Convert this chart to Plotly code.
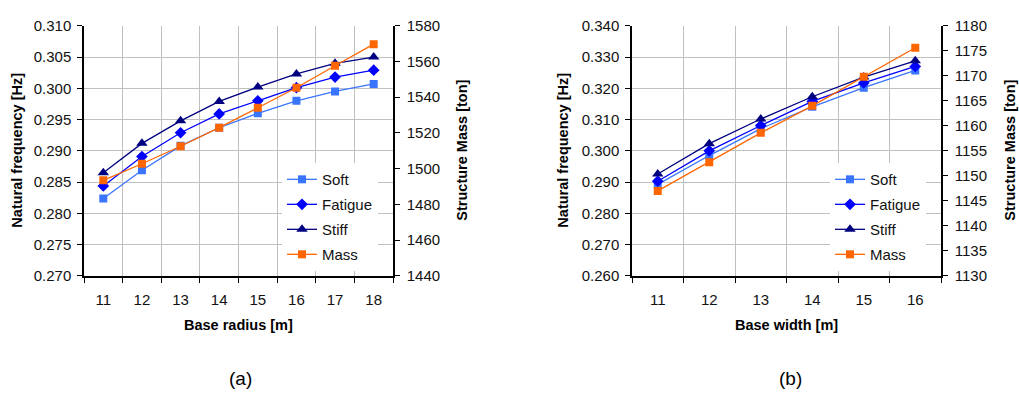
import plotly.graph_objects as go

W, H = 1019, 395

# ---------------- data (a) ----------------
radius = ["11", "12", "13", "14", "15", "16", "17", "18"]
a_soft = [0.2824, 0.2869, 0.2908, 0.2937, 0.2960, 0.2980, 0.2995, 0.3007]
a_fatigue = [0.2844, 0.2891, 0.2929, 0.2959, 0.2980, 0.3001, 0.3018, 0.3029]
a_stiff = [0.2865, 0.2912, 0.2948, 0.2979, 0.3002, 0.3023, 0.3040, 0.3050]
a_mass = [1493.5, 1502.8, 1512.6, 1523.0, 1534.1, 1545.3, 1557.6, 1569.7]

# ---------------- data (b) ----------------
width = ["11", "12", "13", "14", "15", "16"]
b_soft = [0.2893, 0.2985, 0.3071, 0.3141, 0.3202, 0.3257]
b_fatigue = [0.2903, 0.3000, 0.3081, 0.3158, 0.3217, 0.3270]
b_stiff = [0.2926, 0.3023, 0.3102, 0.3173, 0.3236, 0.3288]
b_mass = [1147.0, 1152.75, 1158.6, 1164.0, 1169.8, 1175.6]

C_SOFT = "#3A75FF"
C_FAT = "#0000FF"
C_STIFF = "#000080"
C_MASS = "#FF6600"
FONT = "Arial, Liberation Sans, sans-serif"

fig = go.Figure()


def add_series(x, soft, fat, stiff, mass, xa, ya, ya2, legend):
    common = dict(mode="lines+markers", xaxis=xa, legend=legend)
    fig.add_trace(go.Scatter(x=x, y=soft, name="Soft", yaxis=ya, legendgroup=legend + "1",
                             line=dict(color=C_SOFT, width=1.3),
                             marker=dict(symbol="square", size=8, color=C_SOFT), **common))
    fig.add_trace(go.Scatter(x=x, y=fat, name="Fatigue", yaxis=ya, legendgroup=legend + "2",
                             line=dict(color=C_FAT, width=1.3),
                             marker=dict(symbol="diamond", size=9, color=C_FAT), **common))
    fig.add_trace(go.Scatter(x=x, y=stiff, name="Stiff", yaxis=ya, legendgroup=legend + "3",
                             line=dict(color=C_STIFF, width=1.3),
                             marker=dict(symbol="triangle-up", size=10, color=C_STIFF), **common))
    fig.add_trace(go.Scatter(x=x, y=mass, name="Mass", yaxis=ya2, legendgroup=legend + "4",
                             line=dict(color=C_MASS, width=1.3),
                             marker=dict(symbol="square", size=8, color=C_MASS), **common))


add_series(radius, a_soft, a_fatigue, a_stiff, a_mass, "x", "y", "y2", "legend")
add_series(width, b_soft, b_fatigue, b_stiff, b_mass, "x2", "y3", "y4", "legend2")

ytop = (H - 17.5) / H
ybot = (H - 279) / H
tickfont = dict(family=FONT, size=15, color="#111111")
GRID = "#C0C0C0"

xcommon = dict(type="category", tickson="boundaries", showgrid=True, gridcolor=GRID, gridwidth=1,
               showline=True, linecolor="black", linewidth=1.5, ticks="outside", ticklen=5,
               tickcolor="black", tickfont=tickfont, ticklabelstandoff=9, zeroline=False)
ycommon = dict(showgrid=True, gridcolor=GRID, gridwidth=1, showline=True, linecolor="black",
               linewidth=1.5, ticks="outside", ticklen=5, tickcolor="black", tickfont=tickfont,
               zeroline=False, domain=[ybot, ytop])

fig.update_layout(
    width=W, height=H,
    margin=dict(l=0, r=0, t=0, b=0),
    paper_bgcolor="white", plot_bgcolor="white",
    showlegend=True,
    xaxis=dict(domain=[84 / W, 393 / W], range=[-0.5, 7.5], anchor="y", **xcommon),
    xaxis2=dict(domain=[632 / W, 941 / W], range=[-0.5, 5.5], anchor="y3", **xcommon),
    yaxis=dict(anchor="x", range=[0.270, 0.310], dtick=0.005, tickformat=".3f",
               ticklabelstandoff=3, **ycommon),
    yaxis2=dict(anchor="x", overlaying="y", side="right", range=[1440, 1580], dtick=20,
                ticklabelstandoff=4, **{**ycommon, "showgrid": False}),
    yaxis3=dict(anchor="x2", range=[0.260, 0.340], dtick=0.010, tickformat=".3f",
                ticklabelstandoff=3, **ycommon),
    yaxis4=dict(anchor="x2", overlaying="y3", side="right", range=[1130, 1180], dtick=5,
                ticklabelstandoff=4, **{**ycommon, "showgrid": False}),
    legend=dict(x=282 / W, y=(H - 161) / H, xanchor="left", yanchor="top",
                bgcolor="white", borderwidth=0, font=dict(family=FONT, size=15, color="#111111"),
                tracegroupgap=2.5, traceorder="grouped"),
    legend2=dict(x=830 / W, y=(H - 161) / H, xanchor="left", yanchor="top",
                 bgcolor="white", borderwidth=0, font=dict(family=FONT, size=15, color="#111111"),
                 tracegroupgap=2.5, traceorder="grouped"),
)

tfont = dict(family=FONT, size=14.5, color="black")
ann = []


def add_ann(text, xp, yp, angle=0, font=tfont):
    ann.append(dict(text=text, x=xp / W, y=(H - yp) / H, xref="paper", yref="paper",
                    showarrow=False, textangle=angle, xanchor="center", yanchor="middle",
                    font=font))


add_ann("<b>Natural frequency [Hz]</b>", 17, 148, -90)
add_ann("<b>Structure Mass [ton]</b>", 462, 148, -90)
add_ann("<b>Natural frequency [Hz]</b>", 563, 148, -90)
add_ann("<b>Structure Mass [ton]</b>", 1010, 148, -90)
add_ann("<b>Base radius [m]</b>", 238.5, 330)
add_ann("<b>Base width [m]</b>", 786.5, 330)
lab = dict(family=FONT, size=19, color="black")
add_ann("(a)", 240, 386, font=lab)
add_ann("(b)", 790, 386, font=lab)
fig.update_layout(annotations=ann)

fig.write_html("out.html")
